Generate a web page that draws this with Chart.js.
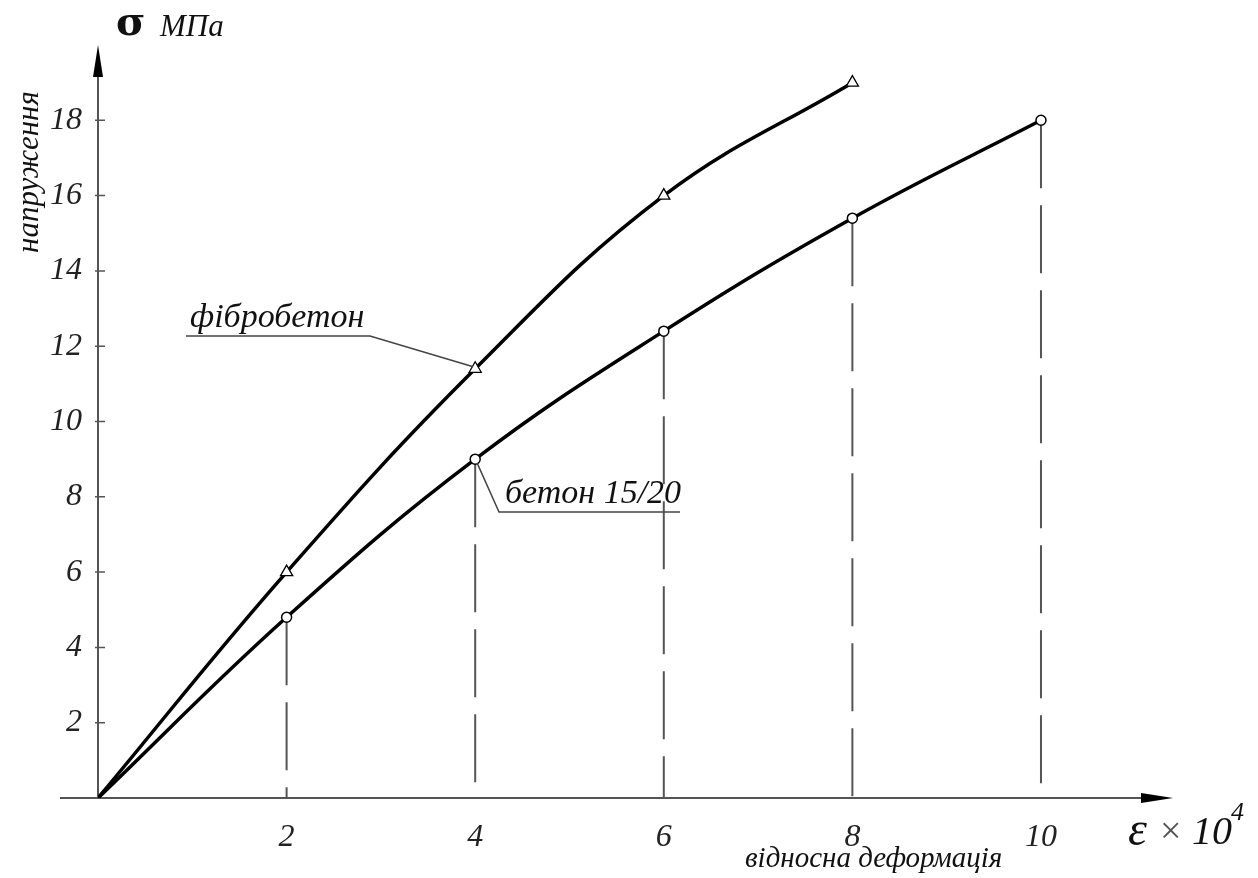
<!DOCTYPE html>
<html>
<head>
<meta charset="utf-8">
<script src="https://cdn.jsdelivr.net/npm/chart.js@4.4.1/dist/chart.umd.min.js"></script>
<style>
  html, body { margin: 0; padding: 0; background: #fff; }
  #wrap { width: 1258px; height: 878px; position: relative; }
</style>
</head>
<body>
<div id="wrap"><canvas id="chart"></canvas></div>
<script>
// data
var strainTicks = [2, 4, 6, 8, 10];
var stressTicks = [2, 4, 6, 8, 10, 12, 14, 16, 18];

var fibroStrain = [0, 2, 4, 6, 8];
var fibroStress = [0, 6.0, 11.4, 16.0, 19.0];

var betonStrain = [0, 2, 4, 6, 8, 10];
var betonStress = [0, 4.8, 9.0, 12.4, 15.4, 18.0];

var fibroLabel = 'фібробетон';
var betonLabel = 'бетон 15/20';

var serif = '"Liberation Serif", "DejaVu Serif", serif';

function pts(xs, ys) {
    return xs.map(function(x, i) { return { x: x, y: ys[i] }; });
}

// dashed drop lines from every concrete point down to the axis
var dropSets = [];
betonStrain.forEach(function(x, i) {
    if (x === 0) return;
    dropSets.push({
        data: [{ x: x, y: betonStress[i] }, { x: x, y: 0 }],
        showLine: true,
        borderColor: '#555',
        borderWidth: 2,
        borderDash: [68, 17],
        pointRadius: 0,
        order: 5
    });
});

// axes with arrows, tick marks and free texts
var drawings = {
    id: 'drawings',
    beforeDatasetsDraw: function(chart) {
        var ctx = chart.ctx, xs = chart.scales.x, ys = chart.scales.y;
        var x0 = xs.getPixelForValue(0), y0 = ys.getPixelForValue(0);
        var xEnd = chart.chartArea.right, yTop = chart.chartArea.top;
        ctx.save();
        ctx.strokeStyle = '#555';
        ctx.fillStyle = '#000';
        ctx.lineWidth = 2;
        ctx.beginPath();
        ctx.moveTo(60, y0); ctx.lineTo(xEnd - 20, y0);
        ctx.moveTo(x0, y0); ctx.lineTo(x0, yTop + 20);
        ctx.stroke();
        // arrow heads
        ctx.beginPath();
        ctx.moveTo(xEnd, y0); ctx.lineTo(xEnd - 32, y0 - 5); ctx.lineTo(xEnd - 32, y0 + 5); ctx.closePath();
        ctx.fill();
        ctx.beginPath();
        ctx.moveTo(x0, yTop); ctx.lineTo(x0 - 5, yTop + 32); ctx.lineTo(x0 + 5, yTop + 32); ctx.closePath();
        ctx.fill();
        // y tick marks
        ctx.lineWidth = 1.5;
        ctx.beginPath();
        stressTicks.forEach(function(v) {
            var p = ys.getPixelForValue(v);
            ctx.moveTo(x0 - 3, p); ctx.lineTo(x0 + 7, p);
        });
        ctx.stroke();
        ctx.restore();
    },
    afterDraw: function(chart) {
        var ctx = chart.ctx, xs = chart.scales.x, ys = chart.scales.y;
        ctx.save();
        ctx.fillStyle = '#111';
        ctx.textBaseline = 'alphabetic';

        // axis titles
        ctx.font = 'bold 40px "DejaVu Serif", serif';
        ctx.fillText('σ', 116, 35);
        ctx.font = 'italic 31px ' + serif;
        ctx.fillText('МПа', 160, 36);

        ctx.save();
        ctx.translate(38, 172);
        ctx.rotate(-Math.PI / 2);
        ctx.textAlign = 'center';
        ctx.font = 'italic 31px ' + serif;
        ctx.fillText('напруження', 0, 0);
        ctx.restore();

        ctx.font = 'italic 48px ' + serif;
        ctx.fillText('ε', 1128, 845);
        ctx.font = '38px ' + serif;
        ctx.fillStyle = '#555';
        ctx.fillText('×', 1160, 843);
        ctx.fillStyle = '#111';
        ctx.font = 'italic 40px ' + serif;
        ctx.fillText('10', 1192, 844);
        ctx.font = 'italic 26px ' + serif;
        ctx.fillText('4', 1231, 820);
        ctx.font = 'italic 29px ' + serif;
        ctx.fillText('відносна деформація', 745, 867);

        // curve labels with leaders
        ctx.strokeStyle = '#444';
        ctx.lineWidth = 1.5;
        var fx = xs.getPixelForValue(fibroStrain[2]), fy = ys.getPixelForValue(fibroStress[2]);
        ctx.font = 'italic 34px ' + serif;
        ctx.fillText(fibroLabel, 190, 327);
        ctx.beginPath();
        ctx.moveTo(186, 336); ctx.lineTo(370, 336); ctx.lineTo(fx - 2, fy - 2);
        ctx.stroke();

        var bx = xs.getPixelForValue(betonStrain[2]), by = ys.getPixelForValue(betonStress[2]);
        ctx.fillText(betonLabel, 505, 503);
        ctx.beginPath();
        ctx.moveTo(bx + 2, by + 4); ctx.lineTo(499, 512); ctx.lineTo(680, 512);
        ctx.stroke();
        ctx.restore();
    }
};

var ctx = document.getElementById('chart').getContext('2d');
new Chart(ctx, {
    type: 'scatter',
    data: {
        datasets: [{
            label: fibroLabel,
            data: pts(fibroStrain, fibroStress),
            showLine: true,
            borderColor: '#000',
            borderWidth: 3.5,
            tension: 0.4,
            pointStyle: 'triangle',
            pointRadius: fibroStrain.map(function(x) { return x === 0 ? 0 : 7; }),
            pointBackgroundColor: '#fff',
            pointBorderColor: '#000',
            pointBorderWidth: 1.3,
            order: 1
        }, {
            label: betonLabel,
            data: pts(betonStrain, betonStress),
            showLine: true,
            borderColor: '#000',
            borderWidth: 3.5,
            tension: 0.4,
            pointStyle: 'circle',
            pointRadius: betonStrain.map(function(x) { return x === 0 ? 0 : 5; }),
            pointBackgroundColor: '#fff',
            pointBorderColor: '#000',
            pointBorderWidth: 1.5,
            order: 1
        }].concat(dropSets)
    },
    options: {
        responsive: true,
        maintainAspectRatio: false,
        animation: false,
        layout: { padding: { left: 38, right: 85, top: 45, bottom: 0 } },
        plugins: { legend: { display: false }, tooltip: { enabled: false } },
        scales: {
            x: {
                type: 'linear', min: 0, max: 11.4,
                afterFit: function(s) { s.height = 80; },
                afterBuildTicks: function(s) { s.ticks = strainTicks.map(function(v) { return { value: v }; }); },
                grid: { display: false },
                border: { display: false },
                ticks: { padding: 12, color: '#222', font: { family: serif, size: 32, style: 'italic' } }
            },
            y: {
                type: 'linear', min: 0, max: 20,
                afterFit: function(s) { s.width = 60; },
                afterBuildTicks: function(s) { s.ticks = stressTicks.map(function(v) { return { value: v }; }); },
                grid: { display: false },
                border: { display: false },
                ticks: { padding: 8, color: '#222', font: { family: serif, size: 32, style: 'italic' } }
            }
        }
    },
    plugins: [drawings]
});
</script>
</body>
</html>
